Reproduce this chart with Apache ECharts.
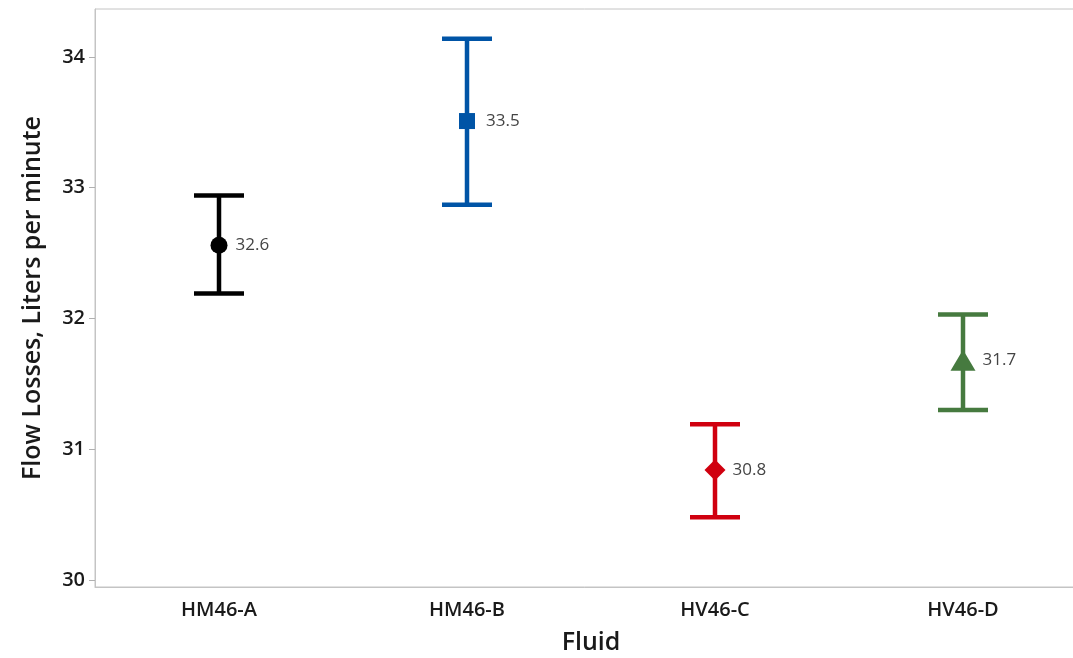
<!DOCTYPE html>
<html>
<head>
<meta charset="utf-8">
<script src="https://cdn.jsdelivr.net/npm/echarts@6/dist/echarts.min.js"></script>
<style>
  html, body { margin: 0; padding: 0; background: #fff; }
  #chart { width: 1073px; height: 658px; }
</style>
</head>
<body>
<div id="chart"></div>
<script>
// Interval plot of flow losses by fluid: mean with interval bars
const categories = ['HM46-A', 'HM46-B', 'HV46-C', 'HV46-D'];
const means = [32.56, 33.51, 30.84, 31.68];
const lower = [32.19, 32.87, 30.48, 31.30];
const upper = [32.94, 34.14, 31.19, 32.03];
const yTicks = [30, 31, 32, 33, 34];

// Appearance per group
const colors = ['#000000', '#0054A6', '#D0000F', '#467A3F'];
const symbols = ['circle', 'rect', 'diamond', 'triangle'];
const symbolSizes = [[17, 17], [16, 16], [21, 21], [25, 21]];
const labelGaps = [8, 11, 7, 7];

const FONT = '"Open Sans", "Noto Sans", sans-serif';
const CAP_HALF = 25;
const BAR_WIDTH = 4.5;

const chart = echarts.init(document.getElementById('chart'), null, { renderer: 'canvas' });

const intervalData = categories.map((c, i) => [i, lower[i], upper[i]]);
const meanData = categories.map((c, i) => ({
  value: [i, means[i]],
  symbol: symbols[i],
  symbolSize: symbolSizes[i],
  itemStyle: { color: colors[i], opacity: 1 },
  label: { distance: labelGaps[i] }
}));

chart.setOption({
  animation: false,
  backgroundColor: '#ffffff',
  grid: {
    left: 95, top: 9, right: -14, bottom: 71,
    outerBoundsMode: 'none',
    containLabel: false,
    show: true, borderColor: '#c4c4c4', borderWidth: 1
  },
  xAxis: {
    type: 'category',
    data: categories,
    boundaryGap: true,
    name: 'Fluid',
    nameLocation: 'middle',
    nameGap: 43,
    nameTextStyle: { fontFamily: FONT, fontSize: 25, color: '#1a1a1a', fontWeight: 600 },
    axisLine: { lineStyle: { color: '#c4c4c4', width: 1 } },
    axisTick: { alignWithLabel: true, length: 6, lineStyle: { color: '#b0b0b0' } },
    axisLabel: { fontFamily: FONT, fontSize: 20, color: '#1a1a1a', margin: 13, fontWeight: 600 },
    splitLine: { show: false }
  },
  yAxis: {
    type: 'value',
    min: 29.946,
    max: 34.367,
    interval: 1,
    name: 'Flow Losses, Liters per minute',
    nameLocation: 'middle',
    nameGap: 50,
    nameTextStyle: { fontFamily: FONT, fontSize: 25, color: '#1a1a1a', fontWeight: 600 },
    axisLine: { show: true, lineStyle: { color: '#c4c4c4', width: 1 } },
    axisTick: { show: true, length: 6, customValues: yTicks, lineStyle: { color: '#b0b0b0' } },
    axisLabel: {
      fontFamily: FONT, fontSize: 20, color: '#1a1a1a', margin: 10, fontWeight: 600,
      customValues: yTicks,
      formatter: v => String(Math.round(v))
    },
    splitLine: { show: false }
  },
  series: [
    {
      type: 'custom',
      data: intervalData,
      encode: { x: 0, y: [1, 2] },
      renderItem: function (params, api) {
        const idx = api.value(0);
        const lo = api.coord([idx, api.value(1)]);
        const hi = api.coord([idx, api.value(2)]);
        const style = { stroke: colors[params.dataIndex], lineWidth: BAR_WIDTH, lineCap: 'butt' };
        return {
          type: 'group',
          children: [
            { type: 'line', shape: { x1: hi[0], y1: hi[1], x2: lo[0], y2: lo[1] }, style: style },
            { type: 'line', shape: { x1: hi[0] - CAP_HALF, y1: hi[1], x2: hi[0] + CAP_HALF, y2: hi[1] }, style: style },
            { type: 'line', shape: { x1: lo[0] - CAP_HALF, y1: lo[1], x2: lo[0] + CAP_HALF, y2: lo[1] }, style: style }
          ]
        };
      },
      z: 2
    },
    {
      type: 'scatter',
      data: meanData,
      z: 3,
      label: {
        show: true,
        position: 'right',
        fontFamily: FONT,
        fontSize: 17,
        color: '#444444',
        formatter: p => p.value[1].toFixed(1)
      }
    }
  ]
});
</script>
</body>
</html>
